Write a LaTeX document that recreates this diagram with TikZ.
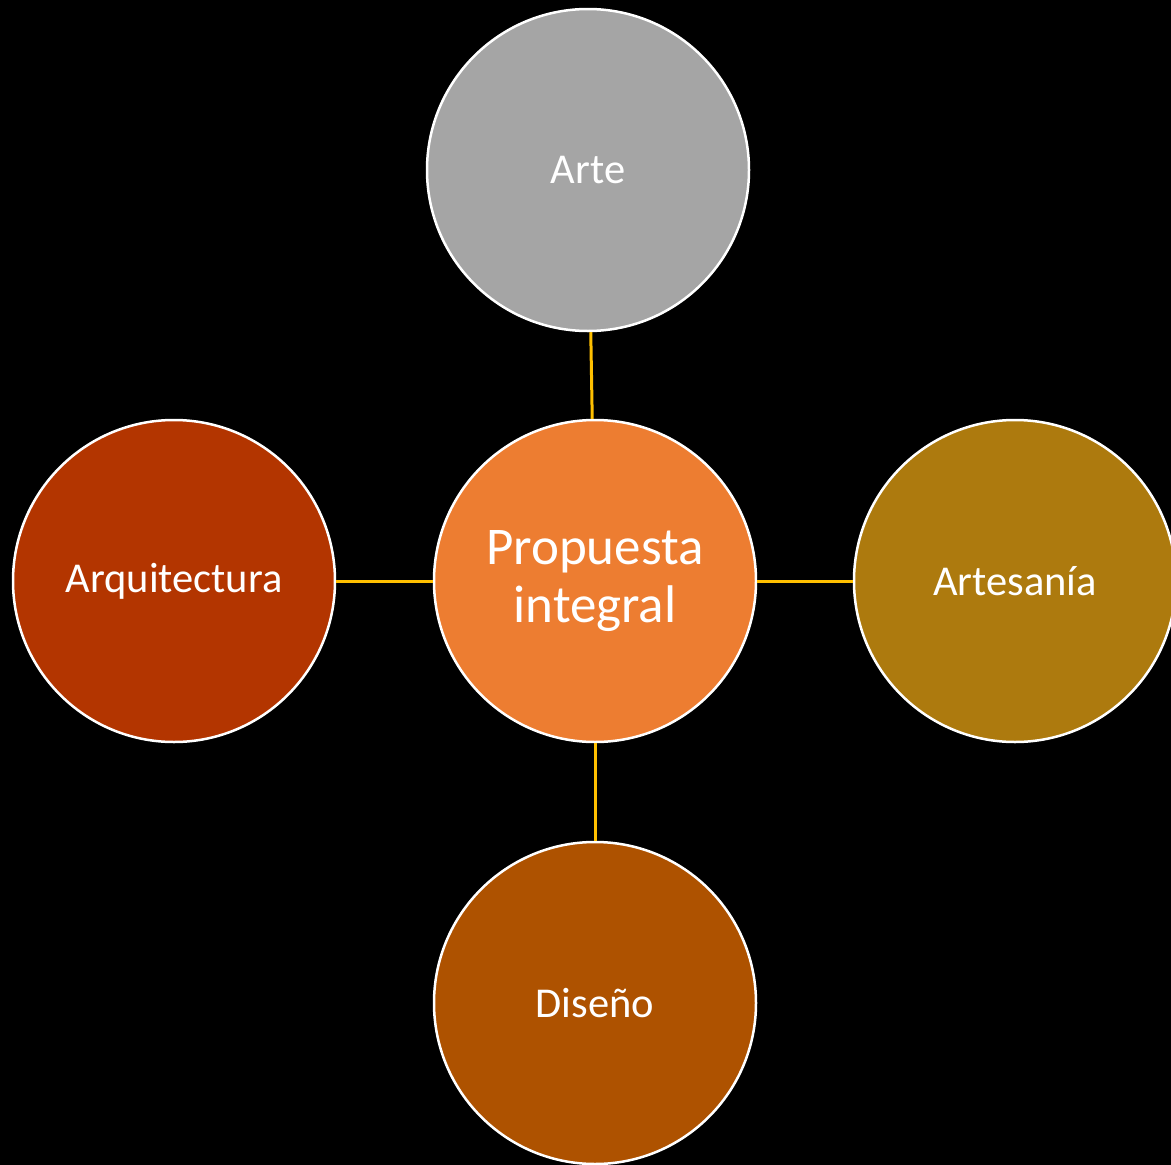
\documentclass[tikz,border=0pt]{standalone}
\usepackage{fontspec}
\setmainfont{Carlito}
\definecolor{bg}{HTML}{000000}
\definecolor{artec}{HTML}{A5A5A5}
\definecolor{centerc}{HTML}{ED7D31}
\definecolor{arqc}{HTML}{B33500}
\definecolor{artesc}{HTML}{AD7A0E}
\definecolor{disc}{HTML}{AE5200}
\definecolor{linkc}{HTML}{FFC000}
\newcommand{\lowr}[1]{\raisebox{-3pt}{#1}}
\begin{document}
\begin{tikzpicture}[x=1pt,y=-1pt,
  bubble/.style={circle,draw=white,line width=2.5pt,minimum size=322pt,inner sep=0pt,text=white,font=\fontsize{42.5}{50}\selectfont,align=center},
  link/.style={draw=linkc,line width=3pt}]
\fill[bg] (0,0) rectangle (1171,1165);
\useasboundingbox (0,0) rectangle (1171,1165);
\node[bubble,fill=centerc,font=\fontsize{53}{58}\selectfont] (c) at (595,581) {\raisebox{-4pt}{Propuesta}\\\raisebox{-4pt}{integral}};
\node[bubble,fill=artec] (arte) at (588,170) {\lowr{Arte}};
\node[bubble,fill=arqc] (arq) at (174,581) {\lowr{Arquitectura}};
\node[bubble,fill=artesc] (artes) at (1015,581) {\lowr{Artesanía}};
\node[bubble,fill=disc] (dis) at (595,1003) {\lowr{Diseño}};
\draw[link] (arte) -- (c);
\draw[link] (arq) -- (c);
\draw[link] (c) -- (artes);
\draw[link] (c) -- (dis);
\end{tikzpicture}
\end{document}
